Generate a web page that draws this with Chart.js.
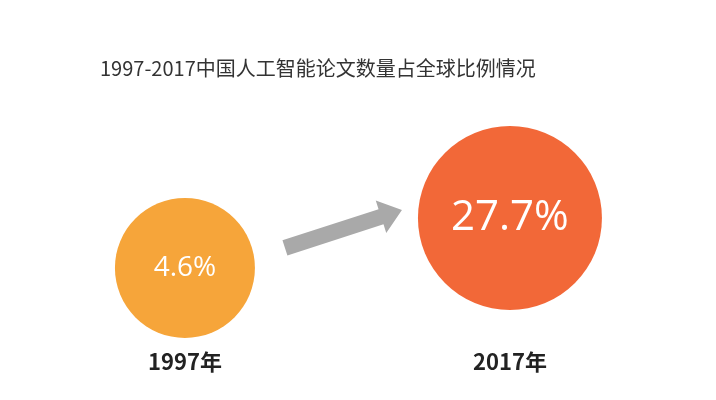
<!DOCTYPE html>
<html><head><meta charset="utf-8">
<script src="https://cdn.jsdelivr.net/npm/chart.js@4"></script>
<style>html,body{margin:0;padding:0;background:#fff}#w{width:716px;height:400px}</style>
</head><body><div id="w"><canvas id="c"></canvas></div>
<script>
const title = '1997-2017中国人工智能论文数量占全球比例情况';
const years = ['1997年', '2017年'];
const shares = [4.6, 27.7];
const shareLabels = ['4.6%', '27.7%'];
const colors = ['#F6A53A', '#F26838'];

const overlay = {
  id: 'overlay',
  afterDatasetsDraw(chart) {
    const ctx = chart.ctx;
    const meta = chart.getDatasetMeta(0);
    const p = meta.data;
    ctx.save();
    ctx.fillStyle = '#333';
    ctx.font = '20px "Noto Sans CJK SC", "Open Sans", sans-serif';
    ctx.textBaseline = 'middle'; ctx.textAlign = 'left';
    ctx.fillText(title, 100, 68);
    ctx.fillStyle = '#fff'; ctx.textAlign = 'center';
    ctx.font = '28px "Open Sans", sans-serif';
    ctx.fillText(shareLabels[0], p[0].x, p[0].y);
    ctx.font = '42px "Open Sans", sans-serif';
    ctx.fillText(shareLabels[1], p[1].x, p[1].y);
    ctx.fillStyle = '#222';
    ctx.font = 'bold 22px "Noto Sans CJK SC", sans-serif';
    ctx.fillText(years[0], p[0].x, 362);
    ctx.fillText(years[1], p[1].x, 362);
    const x1 = p[0].x + 100, y1 = p[0].y - 20, x2 = p[1].x - 108, y2 = p[1].y - 8;
    const ang = Math.atan2(y2 - y1, x2 - x1);
    ctx.translate(x1, y1); ctx.rotate(ang);
    const L = Math.hypot(x2 - x1, y2 - y1);
    ctx.fillStyle = '#A9A9A9';
    ctx.beginPath();
    ctx.moveTo(0, -8); ctx.lineTo(L - 22, -8); ctx.lineTo(L - 22, -17);
    ctx.lineTo(L, 0); ctx.lineTo(L - 22, 17); ctx.lineTo(L - 22, 8); ctx.lineTo(0, 8);
    ctx.closePath(); ctx.fill();
    ctx.restore();
  }
};

new Chart(document.getElementById('c'), {
  type: 'bubble',
  data: { datasets: [{
    data: shares.map((v, i) => ({ x: i, y: v })),
    radius: [70, 92],
    backgroundColor: colors, borderWidth: 0, hoverRadius: 0
  }]},
  options: {
    responsive: true, maintainAspectRatio: false, animation: false,
    layout: { padding: 0, autoPadding: false },
    plugins: { legend: { display: false }, tooltip: { enabled: false } },
    scales: {
      x: { type: 'linear', display: false, min: -0.569, max: 1.634 },
      y: { type: 'linear', display: false, min: -56.4, max: 128.4 }
    }
  },
  plugins: [overlay]
});
</script></body></html>
